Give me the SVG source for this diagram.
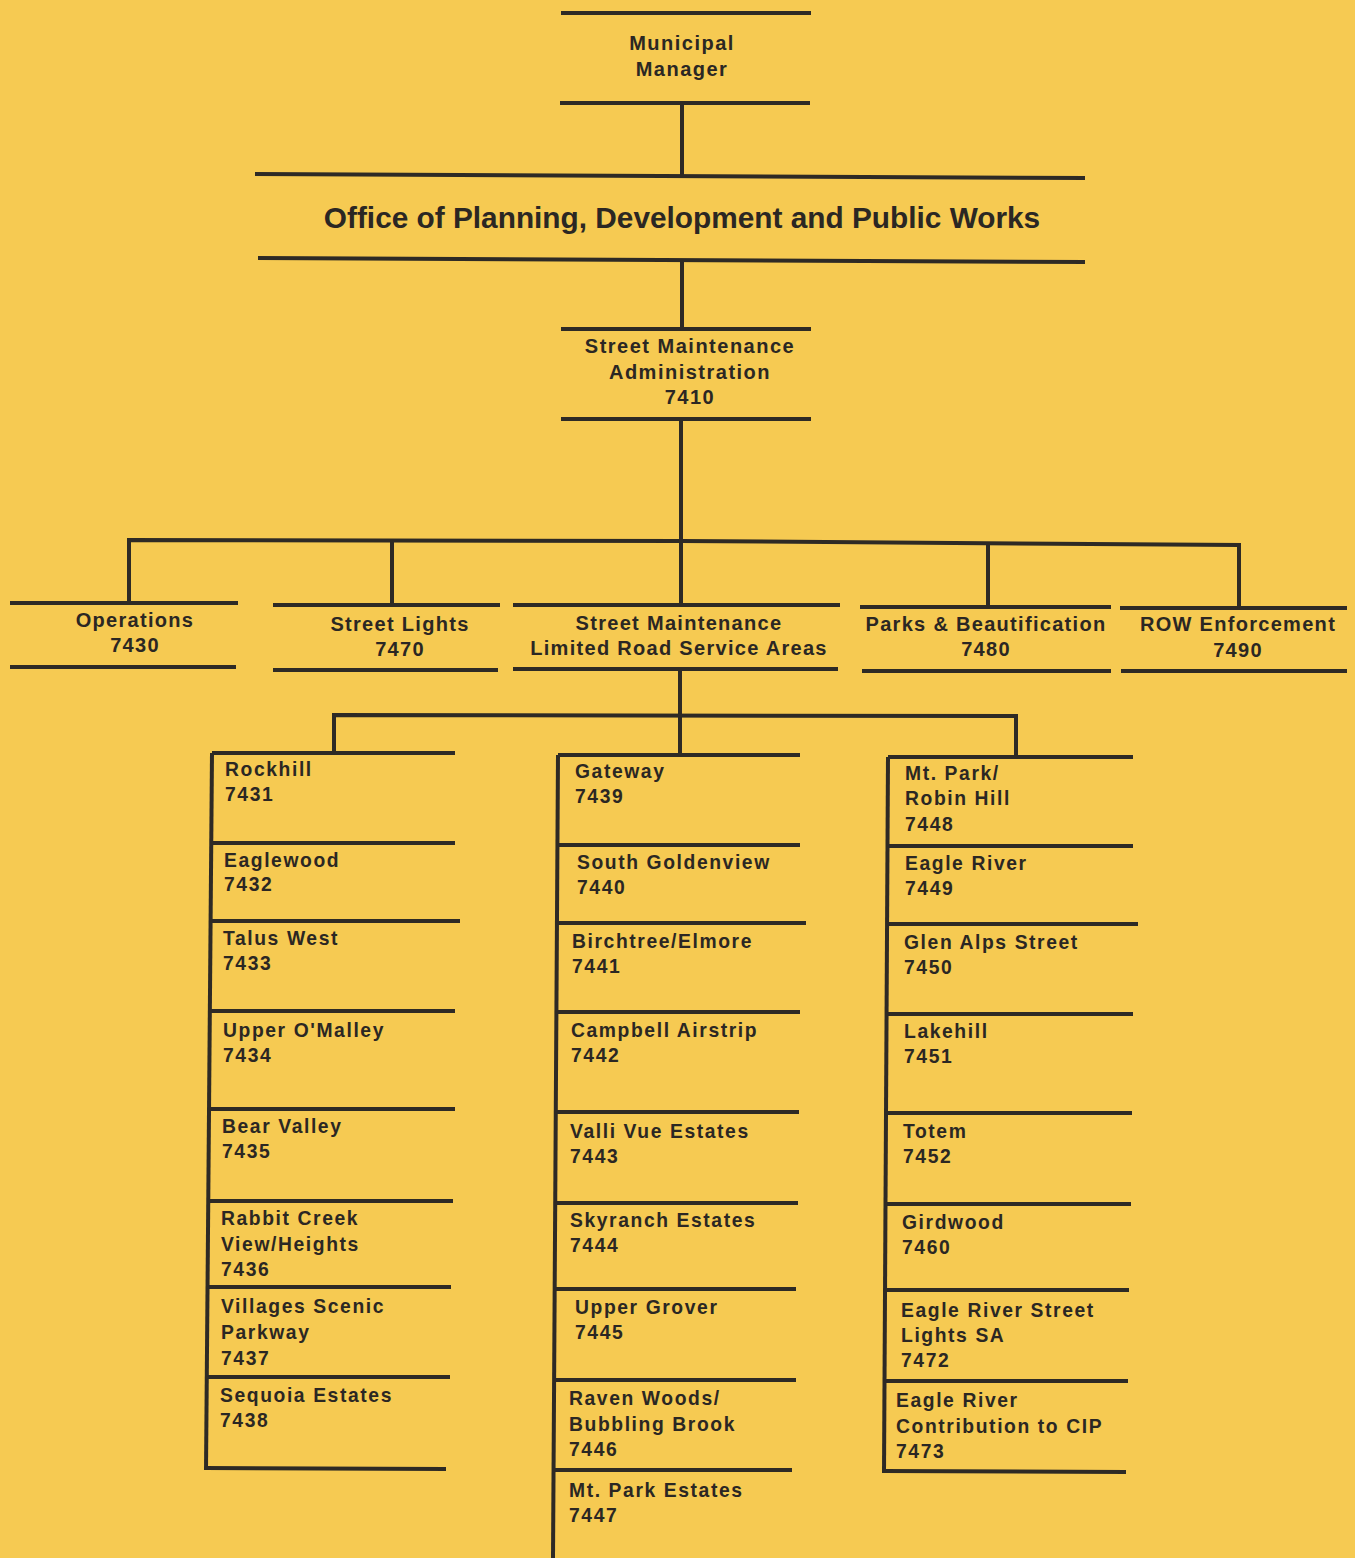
<svg xmlns="http://www.w3.org/2000/svg" width="1355" height="1558" viewBox="0 0 1355 1558">
<style>
.ln{stroke:#2e2a25;stroke-width:4;fill:none}
text{font-family:"Liberation Sans",Arial,sans-serif;font-weight:bold;fill:#2b2723}
.t1{font-size:20px;letter-spacing:1.5px;text-anchor:middle}
.tt{font-size:29.8px;text-anchor:middle}
.t2{font-size:20px;letter-spacing:1.3px;text-anchor:middle}
.t3{font-size:19.3px;letter-spacing:1.6px}
</style>
<rect width="1355" height="1558" fill="#f6ca52"/>
<g id="connectors">
<line class="ln" x1="682" y1="103" x2="682" y2="176"/>
<line class="ln" x1="682" y1="260" x2="682" y2="329"/>
<line class="ln" x1="681" y1="419" x2="681" y2="605"/>
<polyline class="ln" points="129,605 129,540 681,541 1239,545 1239,608"/>
<line class="ln" x1="392" y1="541" x2="392" y2="605"/>
<line class="ln" x1="988" y1="544" x2="988" y2="607"/>
<line class="ln" x1="680" y1="669" x2="680" y2="755"/>
<polyline class="ln" points="334,753 334,715 1016,716 1016,757"/>
<line class="ln" x1="212" y1="753" x2="206" y2="1470"/>
<line class="ln" x1="558" y1="755" x2="553" y2="1558"/>
<line class="ln" x1="888" y1="757" x2="884" y2="1473"/>
<line class="ln" x1="205" y1="1468" x2="446" y2="1469"/>
<line class="ln" x1="883" y1="1471" x2="1126" y2="1472"/>
</g>
<g id="n-manager">
<line class="ln" x1="561" y1="13" x2="811" y2="13"/>
<line class="ln" x1="560" y1="103" x2="810" y2="103"/>
<text class="t1" x="682" y="50">Municipal</text>
<text class="t1" x="682" y="76">Manager</text>
</g>
<g id="n-office">
<line class="ln" x1="255" y1="174" x2="1085" y2="178"/>
<line class="ln" x1="258" y1="258" x2="1085" y2="262"/>
<text class="tt" x="682" y="228">Office of Planning, Development and Public Works</text>
</g>
<g id="n-admin">
<line class="ln" x1="561" y1="329" x2="811" y2="329"/>
<line class="ln" x1="561" y1="419" x2="811" y2="419"/>
<text class="t1" x="690" y="353">Street Maintenance</text>
<text class="t1" x="690" y="379">Administration</text>
<text class="t1" x="690" y="404">7410</text>
</g>
<g id="n-operations">
<line class="ln" x1="10" y1="603" x2="238" y2="603"/>
<line class="ln" x1="10" y1="667" x2="236" y2="667"/>
<text class="t2" x="135" y="627">Operations</text>
<text class="t2" x="135" y="652">7430</text>
</g>
<g id="n-streetlights">
<line class="ln" x1="273" y1="605" x2="500" y2="605"/>
<line class="ln" x1="273" y1="670" x2="498" y2="670"/>
<text class="t2" x="400" y="631">Street Lights</text>
<text class="t2" x="400" y="656">7470</text>
</g>
<g id="n-lrsa">
<line class="ln" x1="513" y1="605" x2="840" y2="605"/>
<line class="ln" x1="513" y1="669" x2="838" y2="669"/>
<text class="t2" x="679" y="630">Street Maintenance</text>
<text class="t2" x="679" y="655">Limited Road Service Areas</text>
</g>
<g id="n-parks">
<line class="ln" x1="860" y1="607" x2="1111" y2="607"/>
<line class="ln" x1="862" y1="671" x2="1111" y2="671"/>
<text class="t2" x="986" y="631">Parks &amp; Beautification</text>
<text class="t2" x="986" y="656">7480</text>
</g>
<g id="n-row">
<line class="ln" x1="1120" y1="608" x2="1347" y2="608"/>
<line class="ln" x1="1121" y1="671" x2="1347" y2="671"/>
<text class="t2" x="1238" y="631">ROW Enforcement</text>
<text class="t2" x="1238" y="657">7490</text>
</g>
<!-- column 1 -->
<g id="n-7431"><line class="ln" x1="212" y1="753" x2="455" y2="753"/><text class="t3" x="225" y="776">Rockhill</text><text class="t3" x="225" y="801">7431</text></g>
<g id="n-7432"><line class="ln" x1="212" y1="843" x2="455" y2="843"/><text class="t3" x="224" y="867">Eaglewood</text><text class="t3" x="224" y="891">7432</text></g>
<g id="n-7433"><line class="ln" x1="211" y1="921" x2="460" y2="921"/><text class="t3" x="223" y="945">Talus West</text><text class="t3" x="223" y="970">7433</text></g>
<g id="n-7434"><line class="ln" x1="211" y1="1011" x2="455" y2="1011"/><text class="t3" x="223" y="1037">Upper O'Malley</text><text class="t3" x="223" y="1062">7434</text></g>
<g id="n-7435"><line class="ln" x1="210" y1="1109" x2="455" y2="1109"/><text class="t3" x="222" y="1133">Bear Valley</text><text class="t3" x="222" y="1158">7435</text></g>
<g id="n-7436"><line class="ln" x1="209" y1="1201" x2="453" y2="1201"/><text class="t3" x="221" y="1225">Rabbit Creek</text><text class="t3" x="221" y="1251">View/Heights</text><text class="t3" x="221" y="1276">7436</text></g>
<g id="n-7437"><line class="ln" x1="208" y1="1287" x2="451" y2="1287"/><text class="t3" x="221" y="1313">Villages Scenic</text><text class="t3" x="221" y="1339">Parkway</text><text class="t3" x="221" y="1365">7437</text></g>
<g id="n-7438"><line class="ln" x1="207" y1="1377" x2="450" y2="1377"/><text class="t3" x="220" y="1402">Sequoia Estates</text><text class="t3" x="220" y="1427">7438</text></g>
<!-- column 2 -->
<g id="n-7439"><line class="ln" x1="558" y1="755" x2="800" y2="755"/><text class="t3" x="575" y="778">Gateway</text><text class="t3" x="575" y="803">7439</text></g>
<g id="n-7440"><line class="ln" x1="558" y1="845" x2="800" y2="845"/><text class="t3" x="577" y="869">South Goldenview</text><text class="t3" x="577" y="894">7440</text></g>
<g id="n-7441"><line class="ln" x1="557" y1="923" x2="806" y2="923"/><text class="t3" x="572" y="948">Birchtree/Elmore</text><text class="t3" x="572" y="973">7441</text></g>
<g id="n-7442"><line class="ln" x1="557" y1="1012" x2="800" y2="1012"/><text class="t3" x="571" y="1037">Campbell Airstrip</text><text class="t3" x="571" y="1062">7442</text></g>
<g id="n-7443"><line class="ln" x1="556" y1="1112" x2="799" y2="1112"/><text class="t3" x="570" y="1138">Valli Vue Estates</text><text class="t3" x="570" y="1163">7443</text></g>
<g id="n-7444"><line class="ln" x1="555" y1="1203" x2="798" y2="1203"/><text class="t3" x="570" y="1227">Skyranch Estates</text><text class="t3" x="570" y="1252">7444</text></g>
<g id="n-7445"><line class="ln" x1="555" y1="1289" x2="796" y2="1289"/><text class="t3" x="575" y="1314">Upper Grover</text><text class="t3" x="575" y="1339">7445</text></g>
<g id="n-7446"><line class="ln" x1="554" y1="1380" x2="796" y2="1380"/><text class="t3" x="569" y="1405">Raven Woods/</text><text class="t3" x="569" y="1431">Bubbling Brook</text><text class="t3" x="569" y="1456">7446</text></g>
<g id="n-7447"><line class="ln" x1="554" y1="1470" x2="792" y2="1470"/><text class="t3" x="569" y="1497">Mt. Park Estates</text><text class="t3" x="569" y="1522">7447</text></g>
<!-- column 3 -->
<g id="n-7448"><line class="ln" x1="888" y1="757" x2="1133" y2="757"/><text class="t3" x="905" y="780">Mt. Park/</text><text class="t3" x="905" y="805">Robin Hill</text><text class="t3" x="905" y="831">7448</text></g>
<g id="n-7449"><line class="ln" x1="888" y1="846" x2="1133" y2="846"/><text class="t3" x="905" y="870">Eagle River</text><text class="t3" x="905" y="895">7449</text></g>
<g id="n-7450"><line class="ln" x1="887" y1="924" x2="1138" y2="924"/><text class="t3" x="904" y="949">Glen Alps Street</text><text class="t3" x="904" y="974">7450</text></g>
<g id="n-7451"><line class="ln" x1="887" y1="1014" x2="1133" y2="1014"/><text class="t3" x="904" y="1038">Lakehill</text><text class="t3" x="904" y="1063">7451</text></g>
<g id="n-7452"><line class="ln" x1="886" y1="1113" x2="1132" y2="1113"/><text class="t3" x="903" y="1138">Totem</text><text class="t3" x="903" y="1163">7452</text></g>
<g id="n-7460"><line class="ln" x1="886" y1="1204" x2="1131" y2="1204"/><text class="t3" x="902" y="1229">Girdwood</text><text class="t3" x="902" y="1254">7460</text></g>
<g id="n-7472"><line class="ln" x1="885" y1="1290" x2="1129" y2="1290"/><text class="t3" x="901" y="1317">Eagle River Street</text><text class="t3" x="901" y="1342">Lights SA</text><text class="t3" x="901" y="1367">7472</text></g>
<g id="n-7473"><line class="ln" x1="884" y1="1381" x2="1128" y2="1381"/><text class="t3" x="896" y="1407">Eagle River</text><text class="t3" x="896" y="1433">Contribution to CIP</text><text class="t3" x="896" y="1458">7473</text></g>
</svg>
